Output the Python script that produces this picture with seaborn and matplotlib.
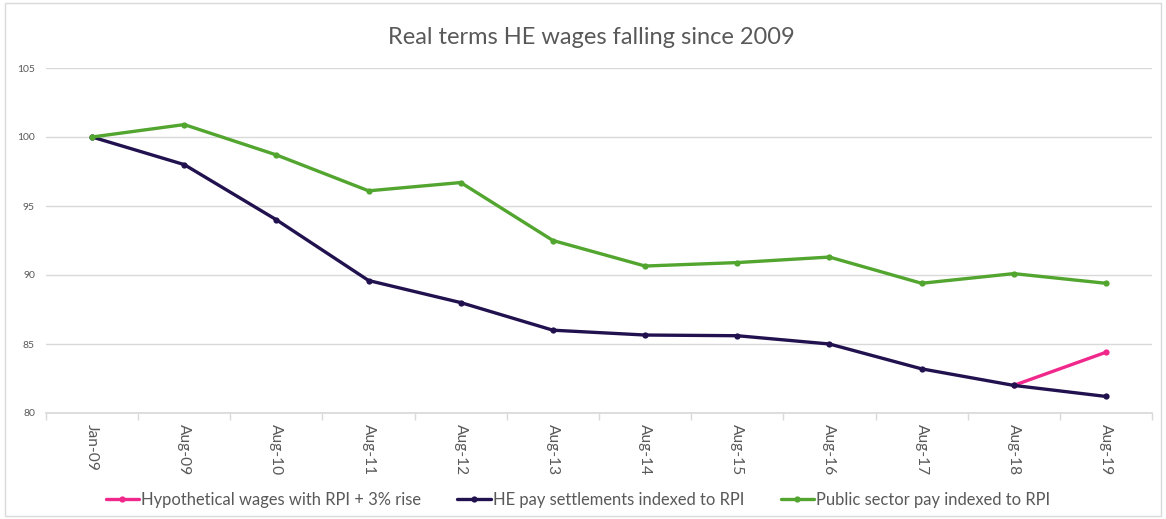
import matplotlib.pyplot as plt
import seaborn as sns
import pandas as pd
import numpy as np
from matplotlib.patches import Rectangle

# 数据
categories = ["Jan-09", "Aug-09", "Aug-10", "Aug-11", "Aug-12", "Aug-13",
              "Aug-14", "Aug-15", "Aug-16", "Aug-17", "Aug-18", "Aug-19"]
hypothetical = [np.nan] * 10 + [82.0, 84.4]
he_pay = [100.0, 98.0, 94.0, 89.6, 88.0, 86.0, 85.65, 85.6, 85.0, 83.2, 82.0, 81.2]
public_sector = [100.0, 100.9, 98.7, 96.1, 96.7, 92.5, 90.65, 90.9, 91.3, 89.4, 90.1, 89.4]

series_names = ["Hypothetical wages with RPI + 3% rise",
                "HE pay settlements indexed to RPI",
                "Public sector pay indexed to RPI"]
colors = ["#F0288C", "#21124F", "#52A52E"]

sns.set_theme(style="white")
plt.rcParams['font.family'] = ['Lato', 'DejaVu Sans']

rows = []
for name, vals in zip(series_names, [hypothetical, he_pay, public_sector]):
    for i, v in enumerate(vals):
        rows.append({"pos": i, "value": v, "series": name})
df = pd.DataFrame(rows).dropna()

fig = plt.figure(figsize=(11.66, 5.19), dpi=100)
ax = fig.add_axes([46 / 1166, 106 / 519, 1106 / 1166, 345 / 519])

sns.lineplot(data=df, x="pos", y="value", hue="series", hue_order=series_names,
             palette=colors, marker="o", markersize=4.5, markeredgewidth=0,
             linewidth=2.4, ax=ax, legend=True)

ax.set_xlim(-0.5, len(categories) - 0.5)
ax.set_ylim(80, 105)
ax.set_yticks([80, 85, 90, 95, 100, 105])
ax.set_xticks(range(len(categories)))
ax.set_xticklabels(categories, rotation=-90, fontsize=11.2, color="#595959")
ax.tick_params(axis="y", labelsize=7.5, labelcolor="#595959", length=0, pad=8)
ax.tick_params(axis="x", length=0, pad=8)
ax.set_xticks(np.arange(-0.5, len(categories)), minor=True)
ax.tick_params(axis="x", which="minor", length=5, color="#D9D9D9", bottom=True)
ax.grid(axis="y", color="#D9D9D9", linewidth=1)
for s in ["top", "right", "left"]:
    ax.spines[s].set_visible(False)
ax.spines["bottom"].set_color("#D9D9D9")
ax.set_xlabel("")
ax.set_ylabel("")

fig.text(591 / 1166, 1 - 38 / 519, "Real terms HE wages falling since 2009",
         ha="center", va="center", fontsize=17, color="#595959")

handles, labels = ax.get_legend_handles_labels()
ax.legend(handles, labels, loc="center", bbox_to_anchor=(578 / 1166, 19 / 519),
          bbox_transform=fig.transFigure, ncol=3, frameon=False, fontsize=11.9,
          handlelength=2.0, handletextpad=0.15, columnspacing=2.2,
          labelcolor="#595959")

# 图表外框
fig.patches.append(Rectangle((0.004, 0.006), 0.992, 0.988, transform=fig.transFigure,
                             fill=False, edgecolor="#D9D9D9", linewidth=1))

fig.savefig("out.png", dpi=100)
